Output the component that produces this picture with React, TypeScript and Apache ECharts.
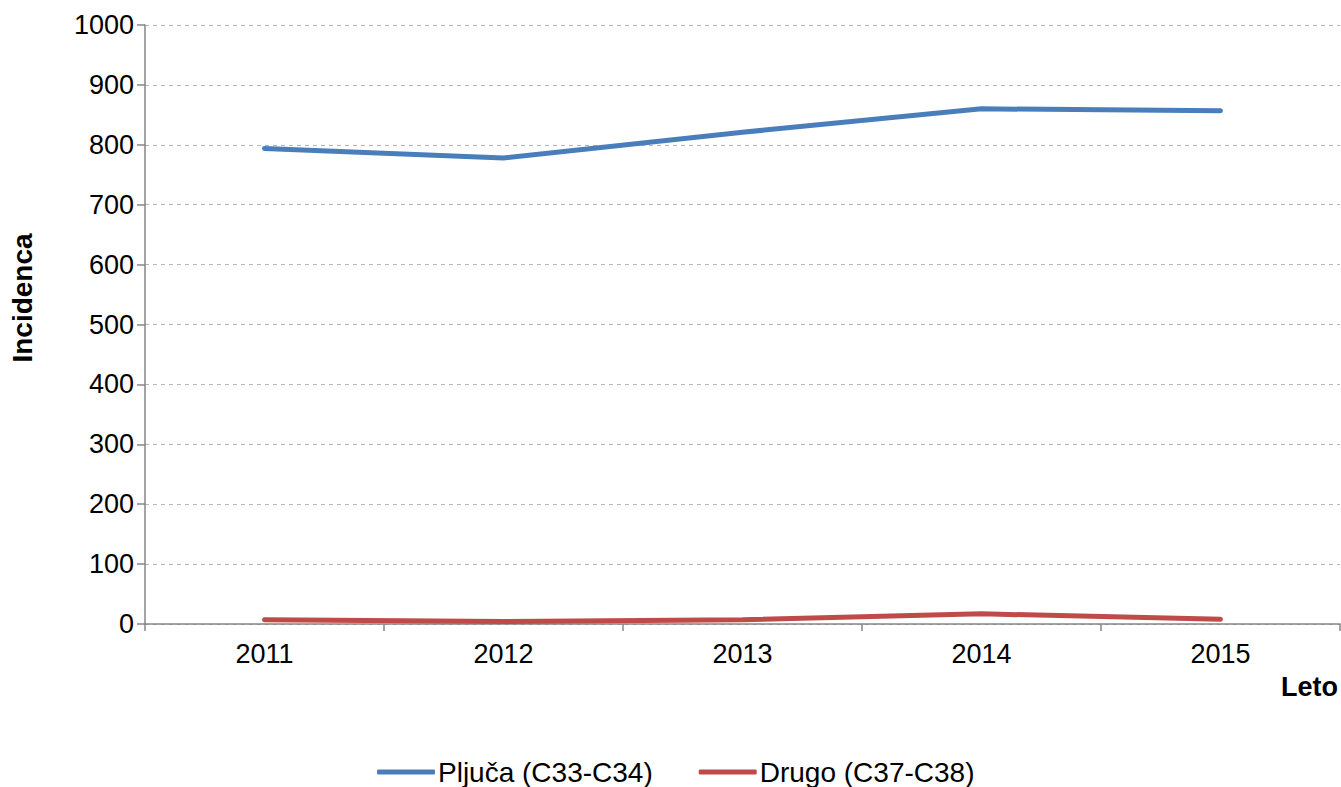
import React, { useEffect, useRef } from "react";
import * as echarts from "echarts";

const years = ["2011", "2012", "2013", "2014", "2015"];
const pljuca = [794, 778, 821, 860, 857];
const drugo = [7, 4, 7, 17, 8];
const seriesNames = ["Pljuča (C33-C34)", "Drugo (C37-C38)"];
const yTitle = "Incidenca";
const xTitle = "Leto";

export default function App() {
  const ref = useRef<HTMLDivElement>(null);
  useEffect(() => {
    const chart = echarts.init(ref.current!, null, { renderer: "svg" });
    const font = "Liberation Sans, Arial, sans-serif";
    chart.setOption({
      animation: false,
      backgroundColor: "#ffffff",
      textStyle: { fontFamily: font },
      grid: { left: 145, right: 1, top: 25, bottom: 163, containLabel: false },
      legend: {
        top: 758,
        left: 377,
        padding: 0,
        itemWidth: 58,
        itemHeight: 5,
        itemGap: 46,
        icon: "roundRect",
        textStyle: { fontSize: 28, lineHeight: 28, color: "#000", fontFamily: font, padding: [0, 0, 0, -2] },
        data: seriesNames,
      },
      xAxis: {
        type: "category",
        data: years,
        boundaryGap: true,
        axisLine: { lineStyle: { color: "#868686", width: 1.5 } },
        axisTick: { show: true, length: 7, lineStyle: { color: "#868686", width: 1.5 } },
        axisLabel: { fontSize: 27, color: "#000", margin: 16, fontFamily: font },
      },
      yAxis: {
        type: "value",
        min: 0,
        max: 1000,
        interval: 100,
        axisLine: { show: true, lineStyle: { color: "#868686", width: 1.5 } },
        axisTick: { show: true, length: 8, lineStyle: { color: "#868686", width: 1.5 } },
        axisLabel: {
          fontSize: 27,
          color: "#000",
          margin: 11,
          fontFamily: font,
          formatter: (v: number) => String(v),
        },
        splitLine: { lineStyle: { color: "#b8b8b8", type: [4, 4], width: 1 } },
      },
      graphic: [
        {
          type: "text",
          x: 22,
          y: 298,
          rotation: Math.PI / 2,
          style: {
            text: yTitle,
            fontSize: 28,
            fontWeight: "bold",
            fill: "#000",
            fontFamily: font,
            align: "center",
            verticalAlign: "middle",
          },
        },
        {
          type: "text",
          right: 3,
          top: 673,
          style: { text: xTitle, fontSize: 27, fontWeight: "bold", fill: "#000", fontFamily: font },
        },
      ],
      series: [
        {
          name: seriesNames[0],
          type: "line",
          data: pljuca,
          showSymbol: false,
          symbol: "none",
          lineStyle: { color: "#4a7ebb", width: 5, cap: "round" },
          itemStyle: { color: "#4a7ebb" },
        },
        {
          name: seriesNames[1],
          type: "line",
          data: drugo,
          showSymbol: false,
          symbol: "none",
          lineStyle: { color: "#be4b48", width: 5, cap: "round" },
          itemStyle: { color: "#be4b48" },
        },
      ],
    });
    return () => chart.dispose();
  }, []);
  return (
    <div
      ref={ref}
      style={{ position: "fixed", left: 0, top: 0, width: 1341, height: 787 }}
    />
  );
}
